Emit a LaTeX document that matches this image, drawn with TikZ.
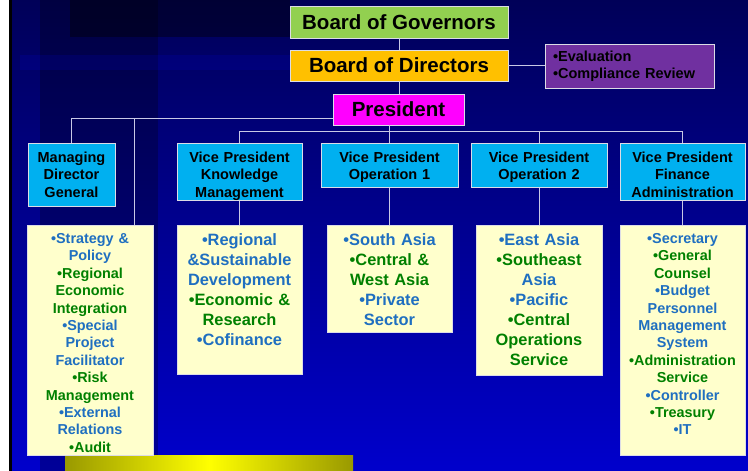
\documentclass[tikz,border=0pt]{standalone}
\usepackage{fontspec}
\setmainfont{Liberation Sans}

\definecolor{govgreen}{HTML}{92D050}
\definecolor{dirorange}{HTML}{FFC000}
\definecolor{evalpurple}{HTML}{7030A0}
\definecolor{presmagenta}{HTML}{FF00FF}
\definecolor{vpcyan}{HTML}{00B0F0}
\definecolor{listyellow}{HTML}{FFFFCC}
\definecolor{listblue}{HTML}{1F6FC0}
\definecolor{listgreen}{HTML}{008000}
\definecolor{bgtop}{HTML}{000058}
\definecolor{bgbottom}{HTML}{0000CC}
\definecolor{linegray}{HTML}{C8C8E6}
\definecolor{boxedge}{HTML}{DCDCE6}
\definecolor{barolive}{HTML}{999900}

\newcommand{\blu}{\color{listblue}}
\newcommand{\grn}{\color{listgreen}}

\begin{document}
\begin{tikzpicture}[x=1pt, y=-1pt,
    box/.style={draw=boxedge, line width=0.8pt, font=\bfseries, inner sep=0pt},
    topbox/.style={box, font=\bfseries\fontsize{20.5}{24}\selectfont},
    vpbox/.style={box, fill=vpcyan, anchor=north, align=center, font=\bfseries\fontsize{14.5}{17.3}\selectfont, text height=19pt},
    listbox/.style={box, fill=listyellow, anchor=north, align=center},
    small/.style={font=\bfseries\fontsize{14.4}{17.4}\selectfont, text height=18pt},
    large/.style={font=\bfseries\fontsize{16.4}{20}\selectfont, text height=20.5pt},
    conn/.style={draw=linegray, line width=1pt}]
    \useasboundingbox (0,0) rectangle (748,471);
    % Background
    \shade[top color=bgtop, bottom color=bgbottom] (0,0) rectangle (748,471);
    \fill[white] (0,0) rectangle (9,471);
    \fill[black] (9,0) rectangle (12,471);
    \fill[black, opacity=0.25] (40,0) rectangle (158,471);
    \fill[black, opacity=0.4] (70,0) rectangle (290,37);
    \fill[blue, opacity=0.12] (20,55) rectangle (290,70);
    \shade[left color=barolive, right color=barolive, middle color=yellow] (65,455) rectangle (353,471);
    % Board and President
    \node[topbox, fill=govgreen, minimum width=218pt, minimum height=32pt] (Gov) at (399,22) {Board of Governors};
    \node[topbox, fill=dirorange, minimum width=218pt, minimum height=31pt] (Dir) at (399,65.5) {Board of Directors};
    \node[box, fill=evalpurple, minimum height=44pt, text width=153pt, inner xsep=8pt, align=left,
          font=\bfseries\fontsize{14.5}{17}\selectfont] (Eval) at (629.5,66) {•Evaluation\\•Compliance Review};
    \node[topbox, fill=presmagenta, minimum width=131pt, minimum height=31pt] (Pres) at (398.5,109.5) {President};
    % Vice Presidents
    \foreach \i/\x/\w/\d/\name in {0/71.5/87/44/{Managing\\Director\\General},
                                  1/239.5/125/38/{Vice President\\Knowledge\\Management},
                                  2/389.5/137/25/{Vice President\\Operation 1},
                                  3/539/136/25/{Vice President\\Operation 2},
                                  4/682.5/125/38/{Vice President\\Finance\\Administration}} {
        \node[vpbox, text width=\w pt, text depth=\d pt] (VP-\i) at (\x,143) {\name};
    }
    % Departments
    \node[listbox, small, text width=126pt, text depth=212pt] (List-0) at (90,225)
        {\blu •Strategy \&\\Policy\\\grn •Regional\\Economic\\Integration\\\blu •Special\\Project\\Facilitator\\
         \grn •Risk\\Management\\\blu •External\\Relations\\\grn •Audit};
    \node[listbox, large, text width=125pt, text depth=128pt] (List-1) at (239.5,225)
        {\blu •Regional\\\&Sustainable\\Development\\\grn •Economic \&\\Research\\\blu •Cofinance};
    \node[listbox, large, text width=125pt, text depth=86pt] (List-2) at (389.5,225)
        {\blu •South Asia\\\grn •Central \&\\West Asia\\\blu •Private\\Sector};
    \node[listbox, large, text width=126pt, text depth=129pt] (List-3) at (539,225)
        {\blu •East Asia\\\grn •Southeast\\\blu Asia\\•Pacific\\\grn •Central\\Operations\\Service};
    \node[listbox, small, text width=125pt, text depth=212pt] (List-4) at (682.5,225)
        {\blu •Secretary\\\grn •General\\Counsel\\\blu •Budget\\Personnel\\Management\\System\\
         \grn •Administration\\Service\\\blu •Controller\\\grn •Treasury\\\blu •IT};
    % Connectors
    \coordinate (vpbus) at (389.5,131);
    \coordinate (mdbus) at (134,118);
    \draw[conn] (Gov.south) -- (Dir.north);
    \draw[conn] (Dir.south) -- (Dir.south |- Pres.north);
    \draw[conn] (Dir.east) -- (Dir.east -| Eval.west);
    \draw[conn] (VP-2.north |- Pres.south) -- (VP-2.north);
    \draw[conn] (VP-1.north |- vpbus) -- (VP-4.north |- vpbus);
    \foreach \i in {1,3,4} {
        \draw[conn] (VP-\i.north |- vpbus) -- (VP-\i.north);
    }
    \foreach \i in {1,...,4} {
        \draw[conn] (VP-\i.south) -- (List-\i.north);
    }
    \draw[conn] (Pres.west |- mdbus) -- (VP-0.north |- mdbus) -- (VP-0.north);
    \draw[conn] (mdbus) -- (mdbus |- List-0.north);
\end{tikzpicture}
\end{document}
